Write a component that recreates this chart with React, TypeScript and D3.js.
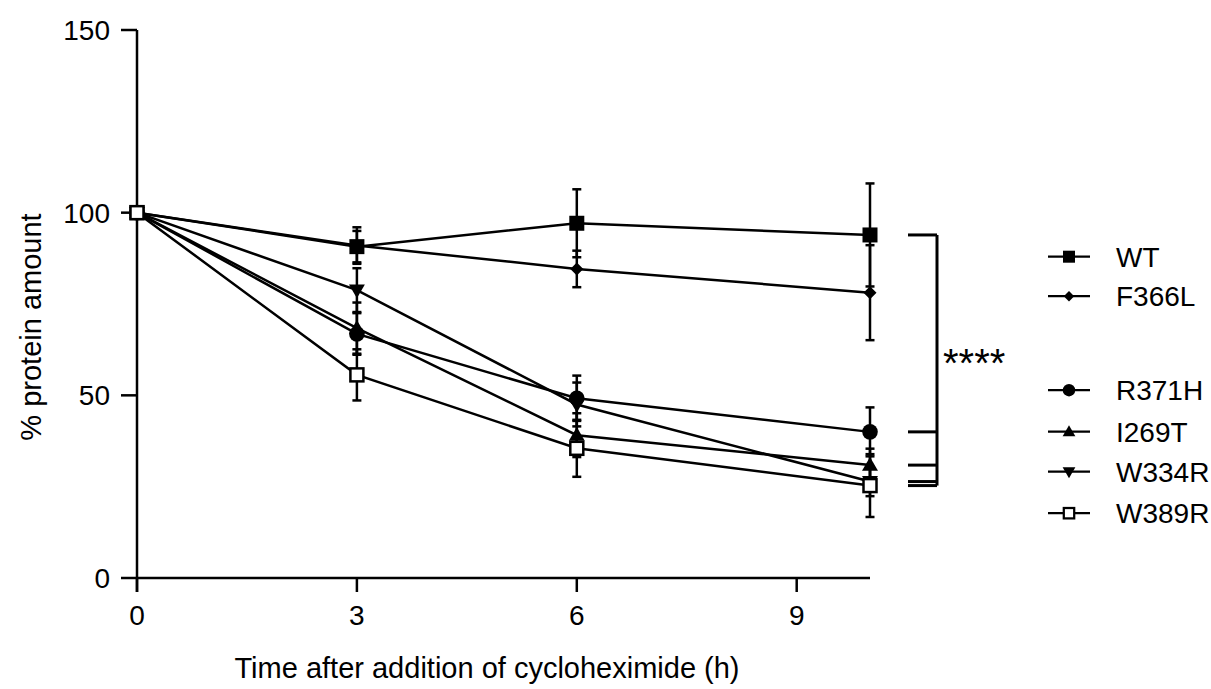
import * as d3 from 'd3';

// time points (h)
const times = [0, 3, 6, 10];
const xTicks = [0, 3, 6, 9];
const yTicks = [0, 50, 100, 150];

const seriesNames = ['WT', 'F366L', 'R371H', 'I269T', 'W334R', 'W389R'];

const wtMean = [100, 90.7, 97.1, 93.9];
const wtSd = [0, 4.3, 9.3, 14.1];
const f366lMean = [100, 91, 84.6, 78.1];
const f366lSd = [0, 5, 5, 13];
const r371hMean = [100, 66.8, 49.2, 40.0];
const r371hSd = [0, 5.7, 6.2, 6.7];
const i269tMean = [100, 68.4, 39.1, 30.9];
const i269tSd = [0, 7, 6, 4.5];
const w334rMean = [100, 78.8, 47.5, 26.4];
const w334rSd = [0, 6, 6, 4];
const w389rMean = [100, 55.6, 35.5, 25.3];
const w389rSd = [0, 7, 7.8, 8.6];

const markers = ['square', 'diamond', 'circle', 'triangle', 'triangleDown', 'openSquare'];
// legend row offsets (px) – gap between the two groups
const legendOffsets = [0, 39.5, 133.5, 175, 215, 256.5];

const series = seriesNames.map((name, i) => ({
  name,
  marker: markers[i],
  mean: [wtMean, f366lMean, r371hMean, i269tMean, w334rMean, w389rMean][i],
  sd: [wtSd, f366lSd, r371hSd, i269tSd, w334rSd, w389rSd][i],
}));

const FONT = '"Liberation Sans", Arial, sans-serif';

function Marker({ type, x, y, k = 1 }: { type: string; x: number; y: number; k?: number }) {
  const s = 7.5 * k;
  if (type === 'square') return <rect x={x - s} y={y - s} width={2 * s} height={2 * s} fill="#000" />;
  if (type === 'openSquare') {
    const h = 6.5 * k;
    return <rect x={x - h} y={y - h} width={2 * h} height={2 * h} fill="#fff" stroke="#000" strokeWidth={2.5 * Math.min(1, k + 0.1)} />;
  }
  if (type === 'diamond') {
    const d = 6.5 * k;
    return <path d={`M${x},${y - d}L${x + d},${y}L${x},${y + d}L${x - d},${y}Z`} fill="#000" />;
  }
  if (type === 'circle') return <circle cx={x} cy={y} r={7.8 * k} fill="#000" />;
  const tri = d3.symbol(d3.symbolTriangle, 110 * k * k)()!;
  const up = type === 'triangle';
  return <path d={tri} fill="#000" transform={`translate(${x},${y + (up ? 1 : -1) * k}) rotate(${up ? 0 : 180})`} />;
}

export default function App() {
  const width = 1211;
  const height = 689;
  const x = d3.scaleLinear().domain([0, 10]).range([137, 870]);
  const y = d3.scaleLinear().domain([0, 150]).range([578, 30]);
  const line = d3
    .line<number>()
    .x((_, i) => x(times[i]))
    .y((d) => y(d));

  const last = times.length - 1;
  const bracketX = 937;
  const bracketLeft = 908;
  const bracketSeries = [0, 2, 3, 4, 5];
  const bracketTop = y(wtMean[last]);
  const bracketBottom = y(w389rMean[last]);

  return (
    <svg
      width={width}
      height={height}
      style={{ position: 'absolute', left: 0, top: 0, background: '#fff' }}
      fontFamily={FONT}
    >
      {/* axes */}
      <g stroke="#000" strokeWidth={2.5} fill="none">
        <line x1={x(0)} x2={x(0)} y1={y(150)} y2={y(0) + 14} />
        <line x1={x(0)} x2={x(10)} y1={y(0)} y2={y(0)} />
        {yTicks.map((t) => (
          <line key={t} x1={x(0) - 16} x2={x(0)} y1={y(t)} y2={y(t)} />
        ))}
        {xTicks.map((t) => (
          <line key={t} x1={x(t)} x2={x(t)} y1={y(0)} y2={y(0) + 14} />
        ))}
      </g>
      {yTicks.map((t) => (
        <text key={t} x={x(0) - 27} y={y(t)} dy="0.36em" textAnchor="end" fontSize={28}>
          {t}
        </text>
      ))}
      {xTicks.map((t) => (
        <text key={t} x={x(t)} y={y(0) + 47} textAnchor="middle" fontSize={28}>
          {t}
        </text>
      ))}
      <text x={487} y={678} textAnchor="middle" fontSize={29}>
        Time after addition of cycloheximide (h)
      </text>
      <text transform="translate(41,327) rotate(-90)" textAnchor="middle" fontSize={29}>
        % protein amount
      </text>

      {/* series */}
      {series.map((s) => (
        <g key={s.name}>
          <path d={line(s.mean)!} fill="none" stroke="#000" strokeWidth={2.5} />
          <g stroke="#000" strokeWidth={2.5}>
            {s.mean.map((m, i) =>
              s.sd[i] > 0 ? (
                <g key={i}>
                  <line x1={x(times[i])} x2={x(times[i])} y1={y(m - s.sd[i])} y2={y(m + s.sd[i])} />
                  <line x1={x(times[i]) - 4.5} x2={x(times[i]) + 4.5} y1={y(m + s.sd[i])} y2={y(m + s.sd[i])} />
                  <line x1={x(times[i]) - 4.5} x2={x(times[i]) + 4.5} y1={y(m - s.sd[i])} y2={y(m - s.sd[i])} />
                </g>
              ) : null
            )}
          </g>
          {s.mean.map((m, i) => (
            <Marker key={i} type={s.marker} x={x(times[i])} y={y(m)} />
          ))}
        </g>
      ))}

      {/* significance bracket */}
      <g stroke="#000" strokeWidth={3} fill="none">
        <line x1={bracketX} x2={bracketX} y1={bracketTop} y2={bracketBottom} />
        {bracketSeries.map((si) => (
          <line key={si} x1={bracketLeft} x2={bracketX} y1={y(series[si].mean[last])} y2={y(series[si].mean[last])} />
        ))}
      </g>
      <text x={943} y={377} fontSize={40}>
        ****
      </text>

      {/* legend */}
      {series.map((s, i) => {
        const ly = 256.7 + legendOffsets[i];
        return (
          <g key={s.name}>
            <line x1={1048} x2={1090} y1={ly} y2={ly} stroke="#000" strokeWidth={2.2} />
            <Marker type={s.marker} x={1069} y={ly} k={0.8} />
            <text x={1116} y={ly} dy="0.36em" fontSize={28}>
              {s.name}
            </text>
          </g>
        );
      })}
    </svg>
  );
}
